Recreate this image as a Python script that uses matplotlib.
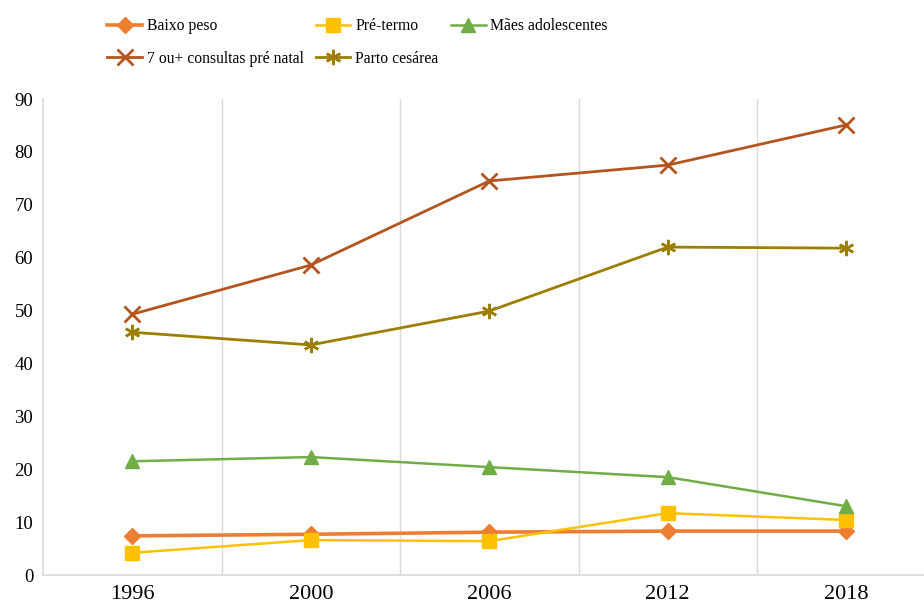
import matplotlib.pyplot as plt

plt.rcParams['font.family'] = ['Liberation Serif', 'DejaVu Serif']

anos = ['1996', '2000', '2006', '2012', '2018']
baixo_peso = [7.4, 7.7, 8.1, 8.3, 8.3]
pre_termo = [4.2, 6.6, 6.4, 11.7, 10.4]
maes_adolescentes = [21.5, 22.3, 20.4, 18.5, 13.0]
consultas_7 = [49.3, 58.6, 74.5, 77.5, 85.1]
parto_cesarea = [45.9, 43.5, 49.9, 62.0, 61.8]

fig = plt.figure(figsize=(9.24, 6.03), dpi=100)
ax = fig.add_axes([43 / 924, 28 / 603, 892.5 / 924, 476 / 603])

x = range(len(anos))
l1, = ax.plot(x, baixo_peso, color='#ED7D31', lw=2.6, marker='D', ms=8.5, label='Baixo peso')
l2, = ax.plot(x, pre_termo, color='#FFC000', lw=1.8, marker='s', ms=10, label='Pré-termo')
l3, = ax.plot(x, maes_adolescentes, color='#70AD47', lw=1.8, marker='^', ms=10, label='Mães adolescentes')
l4, = ax.plot(x, consultas_7, color='#B4541E', lw=2.0, marker='x', ms=11, mew=2, label='7 ou+ consultas pré natal')
l5, = ax.plot(x, parto_cesarea, color='#9C7E00', lw=2.0, marker=(6, 2, 0), ms=11, mew=1.8, label='Parto cesárea')

ax.set_xlim(-0.5, len(anos) - 0.5)
ax.set_ylim(0, 90)
ax.set_yticks(range(0, 91, 10))
ax.set_xticks(list(x))
ax.set_xticklabels(anos, fontsize=16)
ax.tick_params(axis='y', labelsize=13.5, length=0, pad=7)
ax.tick_params(axis='x', length=0, pad=7)

for b in [0.5, 1.5, 2.5, 3.5]:
    ax.axvline(b, color='#D9D9D9', lw=1, zorder=0)

for s in ['top', 'right']:
    ax.spines[s].set_visible(False)
for s in ['left', 'bottom']:
    ax.spines[s].set_color('#D9D9D9')
    ax.spines[s].set_linewidth(1.2)

fig.legend(handles=[l1, l4, l2, l5, l3], ncol=3, loc='upper left',
           bbox_to_anchor=(101 / 924, 1 - 12 / 603), borderaxespad=0, frameon=False,
           fontsize=11.3, handlelength=2.2, handletextpad=0.3,
           columnspacing=0.8, labelspacing=1.05)

fig.savefig('out.png', dpi=100)
